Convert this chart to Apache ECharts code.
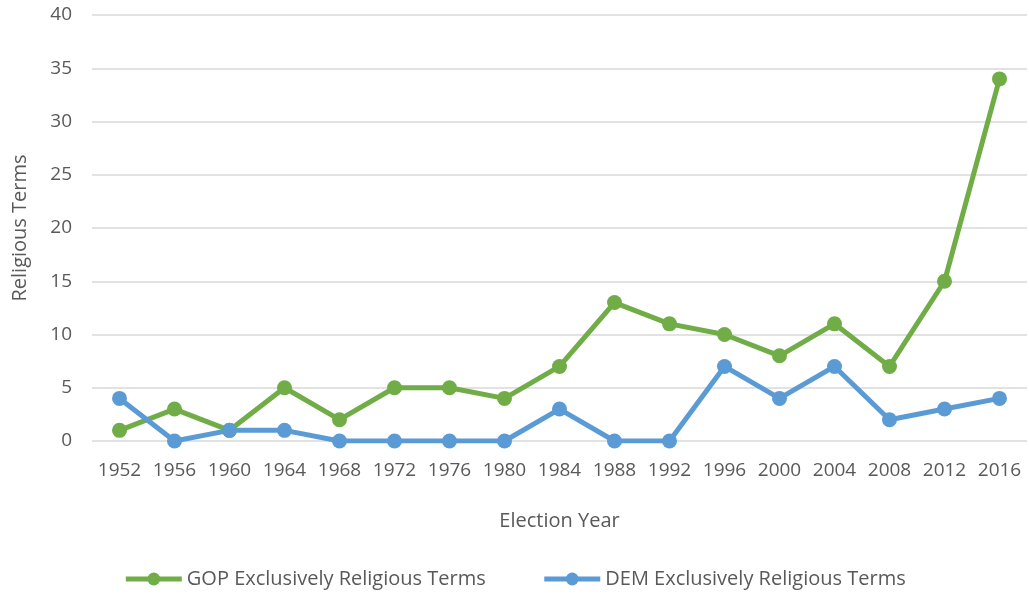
<!DOCTYPE html>
<html>
<head>
<meta charset="utf-8">
<script src="https://cdn.jsdelivr.net/npm/echarts@6/dist/echarts.min.js"></script>
<style>
  html, body { margin: 0; padding: 0; background: #fff; }
  #chart { width: 1029px; height: 599px; }
</style>
</head>
<body>
<div id="chart"></div>
<script>
const years = ['1952', '1956', '1960', '1964', '1968', '1972', '1976', '1980', '1984',
  '1988', '1992', '1996', '2000', '2004', '2008', '2012', '2016'];
const gopTerms = [1, 3, 1, 5, 2, 5, 5, 4, 7, 13, 11, 10, 8, 11, 7, 15, 34];
const demTerms = [4, 0, 1, 1, 0, 0, 0, 0, 3, 0, 0, 7, 4, 7, 2, 3, 4];

const textColor = '#595959';
const fontFamily = '"Open Sans", "Noto Sans", sans-serif';

const myChart = echarts.init(document.getElementById('chart'), undefined, { renderer: 'canvas' });

const option = {
  animation: false,
  textStyle: { fontFamily: fontFamily, color: textColor },
  grid: { left: 92, right: 2, top: 15, bottom: 158 },
  legend: {
    bottom: 5,
    left: 'center',
    itemWidth: 56,
    itemHeight: 16,
    itemGap: 56,
    lineStyle: { width: 5 },
    textStyle: { fontSize: 20, color: textColor, fontFamily: fontFamily },
    data: ['GOP Exclusively Religious Terms', 'DEM Exclusively Religious Terms']
  },
  xAxis: {
    type: 'category',
    data: years,
    name: 'Election Year',
    nameLocation: 'middle',
    nameGap: 70,
    nameTextStyle: { fontSize: 20, color: textColor },
    axisLine: { show: false },
    axisTick: { show: false },
    axisLabel: { fontSize: 19, color: textColor, margin: 20, interval: 0 }
  },
  yAxis: {
    type: 'value',
    min: 0,
    max: 40,
    interval: 5,
    name: 'Religious Terms',
    nameLocation: 'middle',
    nameGap: 62,
    nameTextStyle: { fontSize: 20, color: textColor },
    axisLabel: { fontSize: 19, color: textColor, margin: 20 },
    splitLine: { lineStyle: { color: '#d9d9d9', width: 1.5 } }
  },
  series: [
    {
      name: 'GOP Exclusively Religious Terms',
      type: 'line',
      data: gopTerms,
      symbol: 'circle',
      symbolSize: 15,
      lineStyle: { width: 5, color: '#70ad47' },
      itemStyle: { color: '#70ad47' }
    },
    {
      name: 'DEM Exclusively Religious Terms',
      type: 'line',
      data: demTerms,
      symbol: 'circle',
      symbolSize: 15,
      lineStyle: { width: 5, color: '#5b9bd5' },
      itemStyle: { color: '#5b9bd5' }
    }
  ]
};

myChart.setOption(option);
window.addEventListener('resize', () => {
  myChart.resize();
});
</script>
</body>
</html>
